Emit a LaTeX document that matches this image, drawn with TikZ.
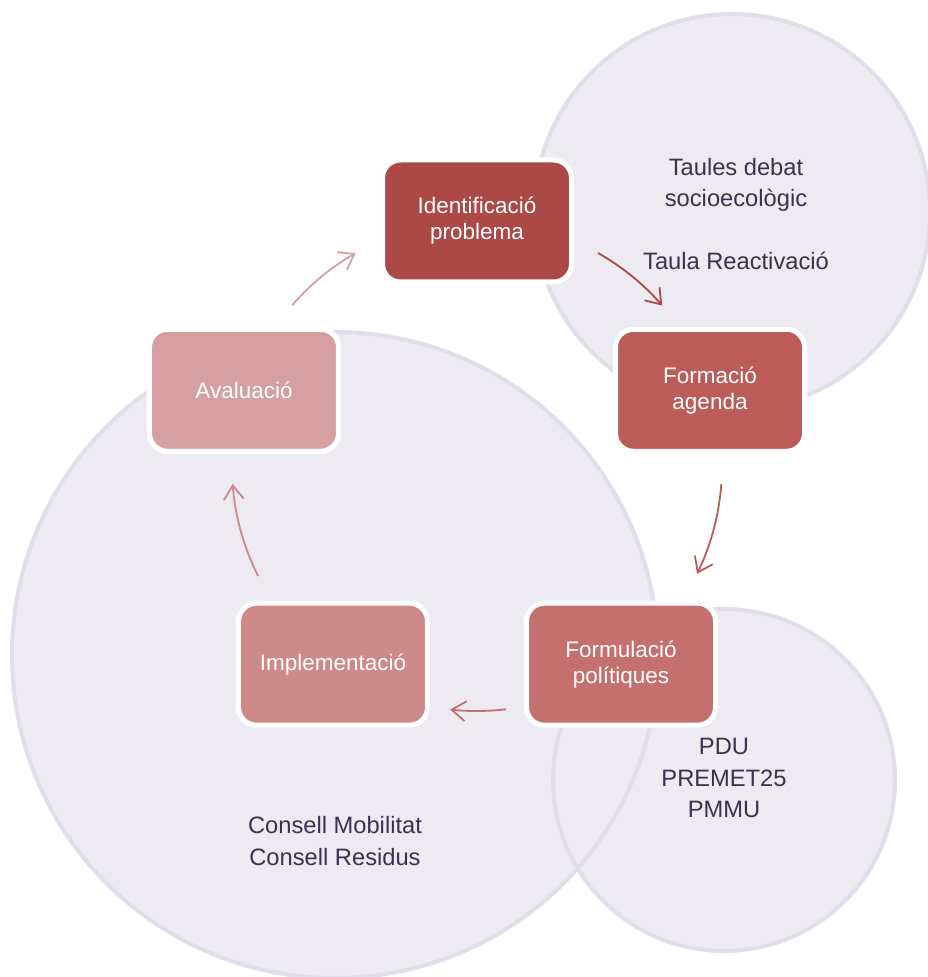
\documentclass[tikz,border=0pt]{standalone}
\usepackage{fontspec}
\setmainfont{Liberation Sans}
\usepackage{tikz}
\newcommand{\bubble}[2]% center, radius
{(#1) circle (#2)
}
\newcommand{\cyclearc}[2]% start angle, end angle
{($(cyc)+(#1:245)$) arc[start angle=#1, end angle=#2, radius=245]
}
\usetikzlibrary{positioning,calc,arrows.meta}
\definecolor{bubblefill}{RGB}{237,234,242}
\definecolor{bubbleline}{RGB}{226,221,235}
\definecolor{inktext}{RGB}{60,48,82}
\definecolor{stepA}{RGB}{172,73,70}
\definecolor{stepB}{RGB}{187,92,89}
\definecolor{stepC}{RGB}{196,112,110}
\definecolor{stepD}{RGB}{205,138,136}
\definecolor{stepE}{RGB}{214,160,160}
\tikzset{
	stepbox/.style={draw=white, line width=5pt, rounded corners=18pt,
		minimum width=189pt, minimum height=122pt, align=center,
		text=white, font=\fontsize{22.5}{26}\selectfont},
	note/.style={align=center, text=inktext, font=\fontsize{23.7}{31.5}\selectfont},
	cyclink/.style={line width=1.8pt, -{Straight Barb[length=14pt,width=20pt]}}
}

\begin{document}
\begin{tikzpicture}[x=1pt,y=1pt]
	\useasboundingbox (0,0) rectangle (927,977);
	\coordinate (cyc) at (477,511);
	\fill[bubblefill] \bubble{335,322}{323};%consells
	\fill[bubblefill] \bubble{732,765}{198};%taules
	\fill[bubblefill] \bubble{724,197}{171};%plans
	\draw[bubbleline, line width=4pt] \bubble{335,322}{323};
	\draw[bubbleline, line width=4pt] \bubble{732,765}{198};
	\draw[bubbleline, line width=4pt] \bubble{724,197}{171};
	\node[note] (taules) at (736,792){Taules debat\\socioecològic};
	\node[note, anchor=base] (reactiv) at (736,707){Taula Reactivació};
	\node[note] (plans) at (724,199){PDU\\PREMET25\\PMMU};
	\node[note] (consells) at (335,136){Consell Mobilitat\\Consell Residus};
	\node[stepbox, fill=stepA] (ident) at ($(cyc)+(90:245)$){Identificació\\problema};%1
	\node[stepbox, fill=stepB] (agenda) at ($(cyc)+(18:245)$){Formació\\agenda};%2
	\node[stepbox, fill=stepC] (formul) at ($(cyc)+(-54:245)$){Formulació\\polítiques};%3
	\node[stepbox, fill=stepD] (implem) at ($(cyc)+(-126:245)$){Implementació};%4
	\node[stepbox, fill=stepE] (aval) at ($(cyc)+(162:245)$){Avaluació};%5
	\draw[cyclink, stepA] \cyclearc{60.4}{40.9};
	\draw[cyclink, stepB] \cyclearc{-4.2}{-26.1};
	\draw[cyclink, stepC] \cyclearc{-83.2}{-96.3};
	\draw[cyclink, stepD] \cyclearc{206.7}{184.2};
	\draw[cyclink, stepE] \cyclearc{139}{119.7};
\end{tikzpicture}
\end{document}
